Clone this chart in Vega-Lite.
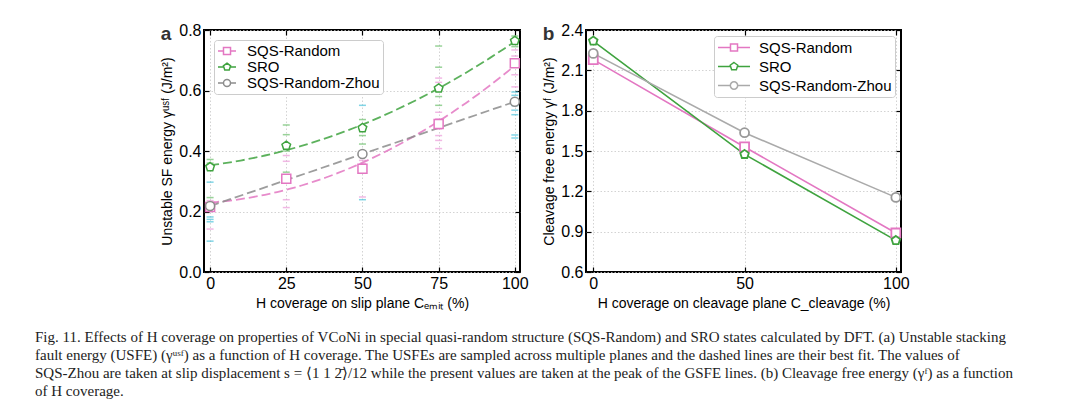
{
  "$schema": "https://vega.github.io/schema/vega-lite/v6.json",
  "background": "white",
  "padding": {"left": 35, "top": 21, "right": 5, "bottom": 5},
  "title": {
    "text": [
      "Fig. 11.   Effects of H coverage on properties of VCoNi in special quasi-random structure (SQS-Random) and SRO states calculated by DFT. (a) Unstable stacking",
      "fault energy (USFE) (γᵘˢᶠ) as a function of H coverage. The USFEs are sampled across multiple planes and the dashed lines are their best fit. The values of",
      "SQS-Zhou are taken at slip displacement s = ⟨1 1 2̄⟩/12 while the present values are taken at the peak of the GSFE lines. (b) Cleavage free energy (γᶠ) as a function",
      "of H coverage."
    ],
    "orient": "bottom",
    "anchor": "start",
    "frame": "group",
    "dx": -169,
    "offset": 19,
    "font": "Liberation Serif",
    "fontSize": 15,
    "fontWeight": "normal",
    "lineHeight": 18,
    "color": "#222222"
  },
  "datasets": {
    "usf": [
      {"coverage": 0, "energy": 0.215, "series": "SQS-Random"},
      {"coverage": 25, "energy": 0.308, "series": "SQS-Random"},
      {"coverage": 50, "energy": 0.341, "series": "SQS-Random"},
      {"coverage": 75, "energy": 0.489, "series": "SQS-Random"},
      {"coverage": 100, "energy": 0.69, "series": "SQS-Random"},
      {"coverage": 0, "energy": 0.347, "series": "SRO"},
      {"coverage": 25, "energy": 0.418, "series": "SRO"},
      {"coverage": 50, "energy": 0.476, "series": "SRO"},
      {"coverage": 75, "energy": 0.607, "series": "SRO"},
      {"coverage": 100, "energy": 0.764, "series": "SRO"},
      {"coverage": 0, "energy": 0.218, "series": "SQS-Random-Zhou"},
      {"coverage": 50, "energy": 0.39, "series": "SQS-Random-Zhou"},
      {"coverage": 100, "energy": 0.563, "series": "SQS-Random-Zhou"}
    ],
    "usf_samples": [
      {"coverage": 0, "energy": 0.236, "source": "SQS-Random"},
      {"coverage": 0, "energy": 0.205, "source": "SQS-Random"},
      {"coverage": 0, "energy": 0.142, "source": "SQS-Random"},
      {"coverage": 0, "energy": 0.372, "source": "SRO"},
      {"coverage": 0, "energy": 0.36, "source": "SRO"},
      {"coverage": 0, "energy": 0.246, "source": "SRO"},
      {"coverage": 0, "energy": 0.297, "source": "SQS-Random-Zhou"},
      {"coverage": 0, "energy": 0.182, "source": "SQS-Random-Zhou"},
      {"coverage": 0, "energy": 0.174, "source": "SQS-Random-Zhou"},
      {"coverage": 0, "energy": 0.166, "source": "SQS-Random-Zhou"},
      {"coverage": 0, "energy": 0.102, "source": "SQS-Random-Zhou"},
      {"coverage": 25, "energy": 0.385, "source": "SQS-Random"},
      {"coverage": 25, "energy": 0.366, "source": "SQS-Random"},
      {"coverage": 25, "energy": 0.239, "source": "SQS-Random"},
      {"coverage": 25, "energy": 0.213, "source": "SQS-Random"},
      {"coverage": 25, "energy": 0.486, "source": "SRO"},
      {"coverage": 25, "energy": 0.454, "source": "SRO"},
      {"coverage": 25, "energy": 0.4, "source": "SRO"},
      {"coverage": 25, "energy": 0.33, "source": "SRO"},
      {"coverage": 50, "energy": 0.369, "source": "SQS-Random"},
      {"coverage": 50, "energy": 0.358, "source": "SQS-Random"},
      {"coverage": 50, "energy": 0.248, "source": "SQS-Random"},
      {"coverage": 50, "energy": 0.504, "source": "SRO"},
      {"coverage": 50, "energy": 0.451, "source": "SRO"},
      {"coverage": 50, "energy": 0.423, "source": "SRO"},
      {"coverage": 50, "energy": 0.398, "source": "SRO"},
      {"coverage": 50, "energy": 0.551, "source": "SQS-Random-Zhou"},
      {"coverage": 50, "energy": 0.239, "source": "SQS-Random-Zhou"},
      {"coverage": 75, "energy": 0.641, "source": "SQS-Random"},
      {"coverage": 75, "energy": 0.627, "source": "SQS-Random"},
      {"coverage": 75, "energy": 0.528, "source": "SQS-Random"},
      {"coverage": 75, "energy": 0.506, "source": "SQS-Random"},
      {"coverage": 75, "energy": 0.473, "source": "SQS-Random"},
      {"coverage": 75, "energy": 0.451, "source": "SQS-Random"},
      {"coverage": 75, "energy": 0.435, "source": "SQS-Random"},
      {"coverage": 75, "energy": 0.408, "source": "SQS-Random"},
      {"coverage": 75, "energy": 0.747, "source": "SRO"},
      {"coverage": 75, "energy": 0.677, "source": "SRO"},
      {"coverage": 75, "energy": 0.58, "source": "SRO"},
      {"coverage": 75, "energy": 0.551, "source": "SRO"},
      {"coverage": 100, "energy": 0.734, "source": "SQS-Random"},
      {"coverage": 100, "energy": 0.714, "source": "SQS-Random"},
      {"coverage": 100, "energy": 0.652, "source": "SQS-Random"},
      {"coverage": 100, "energy": 0.612, "source": "SQS-Random"},
      {"coverage": 100, "energy": 0.78, "source": "SRO"},
      {"coverage": 100, "energy": 0.745, "source": "SRO"},
      {"coverage": 100, "energy": 0.595, "source": "SQS-Random-Zhou"},
      {"coverage": 100, "energy": 0.584, "source": "SQS-Random-Zhou"},
      {"coverage": 100, "energy": 0.55, "source": "SQS-Random-Zhou"},
      {"coverage": 100, "energy": 0.535, "source": "SQS-Random-Zhou"},
      {"coverage": 100, "energy": 0.52, "source": "SQS-Random-Zhou"},
      {"coverage": 100, "energy": 0.453, "source": "SQS-Random-Zhou"},
      {"coverage": 100, "energy": 0.443, "source": "SQS-Random-Zhou"}
    ],
    "cleavage": [
      {"coverage": 0, "energy": 2.18, "series": "SQS-Random"},
      {"coverage": 50, "energy": 1.53, "series": "SQS-Random"},
      {"coverage": 100, "energy": 0.89, "series": "SQS-Random"},
      {"coverage": 0, "energy": 2.318, "series": "SRO"},
      {"coverage": 50, "energy": 1.475, "series": "SRO"},
      {"coverage": 100, "energy": 0.835, "series": "SRO"},
      {"coverage": 0, "energy": 2.226, "series": "SQS-Random-Zhou"},
      {"coverage": 50, "energy": 1.636, "series": "SQS-Random-Zhou"},
      {"coverage": 100, "energy": 1.155, "series": "SQS-Random-Zhou"}
    ]
  },
  "spacing": 11,
  "hconcat": [
    {
      "width": 316,
      "height": 242,
      "title": {"text": "a", "anchor": "start", "frame": "bounds", "baseline": "top", "offset": -22, "fontSize": 19, "fontWeight": "bold", "color": "#333333"},
      "layer": [
        {
          "data": {"name": "usf_samples"},
          "mark": {"type": "tick", "orient": "horizontal", "size": 7, "thickness": 1.5, "opacity": 0.7},
          "encoding": {
            "x": {
              "field": "coverage", "type": "quantitative",
              "scale": {"domain": [-2, 101.7], "nice": false, "zero": false},
              "axis": {"orient": "bottom", "values": [0, 25, 50, 75, 100], "grid": true, "title": "H coverage on slip plane Cₑₘᵢₜ (%)", "titlePadding": 5}
            },
            "y": {
              "field": "energy", "type": "quantitative",
              "scale": {"domain": [0, 0.8], "nice": false},
              "axis": {"orient": "left", "values": [0, 0.2, 0.4, 0.6, 0.8], "format": ".1f", "grid": true, "title": "Unstable SF energy γᵘˢᶠ (J/m²)", "titlePadding": 4}
            },
            "color": {
              "field": "source", "type": "nominal",
              "scale": {"domain": ["SQS-Random", "SRO", "SQS-Random-Zhou"], "range": ["#eb9ad8", "#6cbf6c", "#4cc3db"]},
              "legend": null
            }
          }
        },
        {
          "data": {"name": "usf"},
          "transform": [
            {"regression": "energy", "on": "coverage", "groupby": ["series"], "method": "poly", "order": 2}
          ],
          "mark": {"type": "line", "strokeWidth": 1.8, "strokeDash": [9, 4], "opacity": 0.85},
          "encoding": {
            "x": {"field": "coverage", "type": "quantitative", "axis": {"orient": "top", "labels": false, "title": null, "grid": false, "values": [0, 25, 50, 75, 100]}},
            "y": {"field": "energy", "type": "quantitative", "axis": {"orient": "right", "labels": false, "title": null, "grid": false, "values": [0, 0.2, 0.4, 0.6, 0.8]}},
            "color": {
              "field": "series", "type": "nominal",
              "scale": {"domain": ["SQS-Random", "SRO", "SQS-Random-Zhou"], "range": ["#e377c2", "#3fa33f", "#8c8c8c"]},
              "legend": null
            }
          }
        },
        {
          "data": {"name": "usf"},
          "mark": {"type": "point", "filled": false, "fill": "white", "strokeWidth": 1.5, "size": 81, "opacity": 1},
          "encoding": {
            "x": {"field": "coverage", "type": "quantitative", "axis": null},
            "y": {"field": "energy", "type": "quantitative", "axis": null},
            "color": {
              "field": "series", "type": "nominal",
              "scale": {"domain": ["SQS-Random", "SRO", "SQS-Random-Zhou"], "range": ["#e377c2", "#3fa33f", "#8c8c8c"]},
              "legend": null
            },
            "shape": {
              "field": "series", "type": "nominal",
              "scale": {"domain": ["SQS-Random", "SRO", "SQS-Random-Zhou"], "range": ["M-1,-1H1V1H-1Z", "M0,-1L0.951,-0.309L0.588,0.809L-0.588,0.809L-0.951,-0.309Z", "circle"]},
              "legend": null
            }
          }
        },
        {
          "data": {"name": "usf"},
          "mark": {"type": "point", "filled": false, "fill": "white", "strokeWidth": 1.5, "size": 324, "opacity": 0},
          "encoding": {
            "x": {"field": "coverage", "type": "quantitative", "axis": null},
            "y": {"field": "energy", "type": "quantitative", "axis": null},
            "color": {
              "field": "series", "type": "nominal",
              "scale": {"domain": ["SQS-Random", "SRO", "SQS-Random-Zhou"], "range": ["#e377c2", "#3fa33f", "#8c8c8c"]},
              "legend": {"orient": "top-left", "offset": 10, "symbolOpacity": 1, "symbolSize": 324, "labelOffset": 10, "clipHeight": 16, "rowPadding": -2, "title": null}
            },
            "shape": {
              "field": "series", "type": "nominal",
              "scale": {"domain": ["SQS-Random", "SRO", "SQS-Random-Zhou"], "range": [
                "M-1,0H-0.39M0.39,0H1M-0.39,-0.39H0.39V0.39H-0.39Z",
                "M-1,0H-0.36M0.36,0H1M0,-0.42L0.4,-0.13L0.247,0.34L-0.247,0.34L-0.4,-0.13Z",
                "M-1,0H-0.39M0.39,0H1M0.39,0A0.39,0.39 0 1,1 -0.39,0A0.39,0.39 0 1,1 0.39,0Z"
              ]},
              "legend": {"orient": "top-left", "offset": 10, "symbolOpacity": 1, "symbolSize": 324, "labelOffset": 10, "clipHeight": 16, "rowPadding": -2, "title": null}
            }
          }
        }
      ],
      "resolve": {
        "scale": {"color": "independent", "shape": "independent"},
        "axis": {"x": "independent", "y": "independent"}
      }
    },
    {
      "width": 315,
      "height": 242,
      "title": {"text": "b", "anchor": "start", "frame": "bounds", "baseline": "top", "offset": -22, "fontSize": 19, "fontWeight": "bold", "color": "#333333"},
      "layer": [
        {
          "data": {"name": "cleavage"},
          "mark": {"type": "line", "strokeWidth": 1.6},
          "encoding": {
            "x": {
              "field": "coverage", "type": "quantitative",
              "scale": {"domain": [-2.4, 101.7], "nice": false, "zero": false},
              "axis": {"orient": "bottom", "values": [0, 50, 100], "grid": true, "title": "H coverage on cleavage plane C_cleavage (%)", "titlePadding": 5}
            },
            "y": {
              "field": "energy", "type": "quantitative",
              "scale": {"domain": [0.6, 2.4], "nice": false, "zero": false},
              "axis": {"orient": "left", "values": [0.6, 0.9, 1.2, 1.5, 1.8, 2.1, 2.4], "format": ".1f", "grid": true, "title": "Cleavage free energy γᶠ (J/m²)", "titlePadding": 4}
            },
            "color": {
              "field": "series", "type": "nominal",
              "scale": {"domain": ["SQS-Random", "SRO", "SQS-Random-Zhou"], "range": ["#e377c2", "#3fa33f", "#aaaaaa"]},
              "legend": null
            }
          }
        },
        {
          "data": {"name": "cleavage"},
          "mark": {"type": "point", "filled": false, "fill": "white", "strokeWidth": 1.8, "size": 81, "opacity": 1},
          "encoding": {
            "x": {"field": "coverage", "type": "quantitative", "axis": {"orient": "top", "labels": false, "title": null, "grid": false, "values": [0, 50, 100]}},
            "y": {"field": "energy", "type": "quantitative", "axis": {"orient": "right", "labels": false, "title": null, "grid": false, "values": [0.6, 0.9, 1.2, 1.5, 1.8, 2.1, 2.4]}},
            "color": {
              "field": "series", "type": "nominal",
              "scale": {"domain": ["SQS-Random", "SRO", "SQS-Random-Zhou"], "range": ["#e377c2", "#3fa33f", "#999999"]},
              "legend": null
            },
            "shape": {
              "field": "series", "type": "nominal",
              "scale": {"domain": ["SQS-Random", "SRO", "SQS-Random-Zhou"], "range": ["M-1,-1H1V1H-1Z", "M0,-1L0.951,-0.309L0.588,0.809L-0.588,0.809L-0.951,-0.309Z", "circle"]},
              "legend": null
            }
          }
        },
        {
          "data": {"name": "cleavage"},
          "mark": {"type": "point", "filled": false, "fill": "white", "strokeWidth": 1.5, "size": 1024, "opacity": 0},
          "encoding": {
            "x": {"field": "coverage", "type": "quantitative", "axis": null},
            "y": {"field": "energy", "type": "quantitative", "axis": null},
            "color": {
              "field": "series", "type": "nominal",
              "scale": {"domain": ["SQS-Random", "SRO", "SQS-Random-Zhou"], "range": ["#e377c2", "#3fa33f", "#aaaaaa"]},
              "legend": {"orient": "top-right", "offset": 6, "padding": 3, "symbolOpacity": 1, "symbolSize": 1024, "labelOffset": 8, "clipHeight": 17, "rowPadding": 2, "title": null}
            },
            "shape": {
              "field": "series", "type": "nominal",
              "scale": {"domain": ["SQS-Random", "SRO", "SQS-Random-Zhou"], "range": [
                "M-1,0H-0.22M0.22,0H1M-0.22,-0.22H0.22V0.22H-0.22Z",
                "M-1,0H-0.213M0.213,0H1M0,-0.25L0.238,-0.077L0.147,0.202L-0.147,0.202L-0.238,-0.077Z",
                "M-1,0H-0.23M0.23,0H1M0.23,0A0.23,0.23 0 1,1 -0.23,0A0.23,0.23 0 1,1 0.23,0Z"
              ]},
              "legend": {"orient": "top-right", "offset": 6, "padding": 3, "symbolOpacity": 1, "symbolSize": 1024, "labelOffset": 8, "clipHeight": 17, "rowPadding": 2, "title": null}
            }
          }
        }
      ],
      "resolve": {
        "scale": {"color": "independent", "shape": "independent"},
        "axis": {"x": "independent", "y": "independent"}
      }
    }
  ],
  "config": {
    "font": "Liberation Sans",
    "view": {"stroke": "black", "strokeWidth": 2},
    "title": {"font": "Liberation Sans"},
    "axis": {
      "labelFont": "Liberation Sans",
      "labelFontSize": 16,
      "labelColor": "black",
      "titleFont": "Liberation Sans",
      "titleFontSize": 14,
      "titleFontWeight": "normal",
      "titleColor": "black",
      "tickColor": "black",
      "tickSize": -5,
      "tickWidth": 1.2,
      "labelPadding": 8,
      "domain": false,
      "gridDash": [1.5, 2],
      "gridColor": "#c8c8c8",
      "gridWidth": 0.8
    },
    "legend": {
      "labelFont": "Liberation Sans",
      "labelFontSize": 15,
      "labelColor": "black",
      "strokeColor": "#cccccc",
      "fillColor": "white",
      "padding": 3,
      "cornerRadius": 3,
      "symbolStrokeWidth": 1.5
    }
  }
}
